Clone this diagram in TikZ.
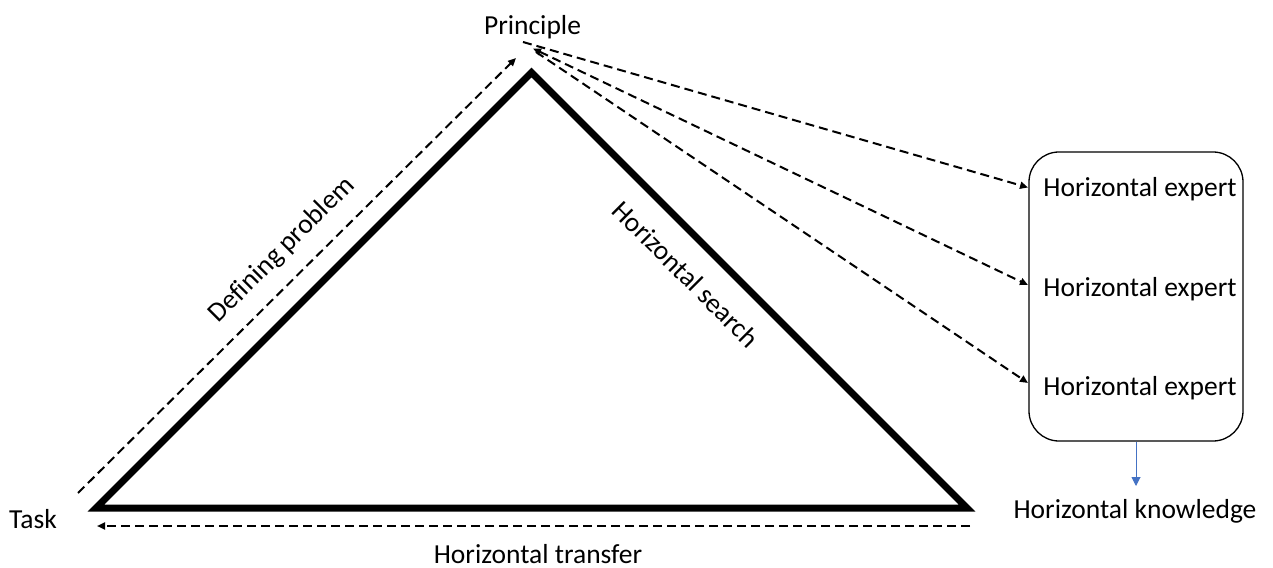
\documentclass[tikz,border=0pt]{standalone}
\usepackage{fontspec}
\setmainfont{Carlito}[Ligatures=NoCommon]
\usetikzlibrary{arrows.meta}
\definecolor{linkblue}{HTML}{4472C4}
\begin{document}
\begin{tikzpicture}[x=1bp,y=-1bp,
  lbl/.style={inner sep=0pt,font=\fontsize{27.5bp}{33bp}\selectfont},
  dashline/.style={line width=2bp,dash pattern=on 9bp off 5bp,
    -{Triangle[length=8bp,width=7bp]}},
  edgeline/.style={line width=7bp,line join=miter}]
\useasboundingbox (0,0) rectangle (1273,568);

% corners of the triangle
\coordinate (apex) at (531.5,72.5);
\coordinate (bl) at (96,508);
\coordinate (br) at (967,508);
\draw[edgeline] (apex) -- (bl) -- (br) -- cycle;

% labels at the corners
\node[lbl,anchor=base] (principle) at (532.5,35) {Principle};
\node[lbl,anchor=base] (task) at (33,528) {Task};

% labels along the sides
\node[lbl,rotate=45] (defining) at (282,250) {Defining problem};
\node[lbl,rotate=-45] (search) at (686,274) {Horizontal search};
\node[lbl,anchor=base] (transfer) at (538,563) {Horizontal transfer};

% box of experts
\node[draw,line width=1.3bp,rounded corners=30bp,minimum width=214bp,
  minimum height=289bp] (box) at (1136,296.5) {};
\node[lbl,anchor=base] (e1) at (1140,197) {Horizontal expert};
\node[lbl,anchor=base] (e2) at (1140,297) {Horizontal expert};
\node[lbl,anchor=base] (e3) at (1140,395) {Horizontal expert};
\node[lbl,anchor=base] (knowledge) at (1135,518) {Horizontal knowledge};

% connector ends
\coordinate (dpStart) at (78,493);
\coordinate (dpEnd) at (516,58);
\coordinate (htStart) at (970,526);
\coordinate (htEnd) at (97,526);
\coordinate (p1) at (523,42);
\coordinate (p2) at (533,48.5);
\coordinate (p3) at (536,52);
\coordinate (x1) at (1028,187.5);
\coordinate (x2) at (1028,285);
\coordinate (x3) at (1028,383);
\coordinate (kn) at (1136,486);

\draw[dashline] (dpStart) -- (dpEnd);
\draw[dashline] (htStart) -- (htEnd);
\draw[dashline] (p1) -- (x1);
\draw[dashline,{Triangle[length=8bp,width=7bp]}-{Triangle[length=8bp,width=7bp]}] (p2) -- (x2);
\draw[dashline] (p3) -- (x3);

\draw[linkblue,line width=1bp,-{Triangle[length=9bp,width=9bp]}] (box.south) -- (kn);
\end{tikzpicture}
\end{document}
